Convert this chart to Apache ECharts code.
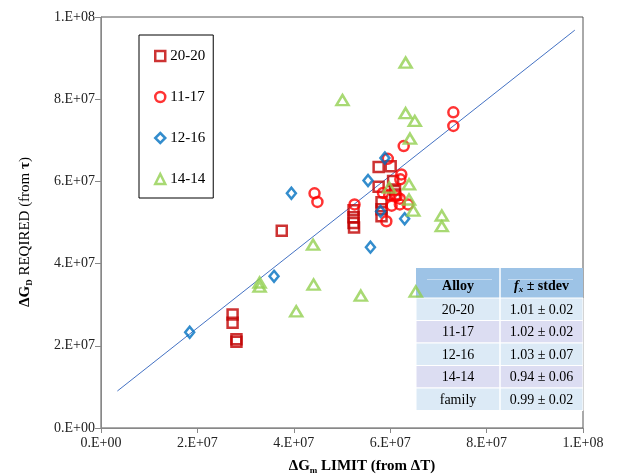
<!DOCTYPE html>
<html>
<head>
<meta charset="utf-8">
<script src="https://cdn.jsdelivr.net/npm/echarts@6/dist/echarts.min.js"></script>
<style>
html, body { margin: 0; padding: 0; background: #fff; }
#main { width: 634px; height: 476px; }
</style>
</head>
<body>
<div id="main"></div>
<script>
// all values in units of 1e6
var tickLabels = ['0.E+00', '2.E+07', '4.E+07', '6.E+07', '8.E+07', '1.E+08'];

var s2020 = [[27.3, 27.6], [27.3, 25.6], [28.1, 21.6], [28.1, 21.0], [37.5, 48.0],
    [52.4, 53.0], [52.4, 51.3], [52.4, 49.9], [52.5, 48.8], [57.6, 63.5], [60.1, 63.7],
    [57.6, 58.7], [60.6, 60.1], [61.0, 58.0], [61.0, 56.8], [58.2, 54.9], [58.2, 53.2], [58.2, 51.5]];
var s1117 = [[44.3, 57.1], [44.9, 55.0], [52.6, 54.4], [59.5, 65.5], [62.8, 68.6], [73.1, 76.8],
    [73.1, 73.5], [62.3, 61.7], [62.1, 60.5], [58.5, 57.2], [59.8, 56.6], [61.3, 56.4],
    [60.3, 54.1], [62.0, 54.4], [62.0, 55.8], [59.2, 50.3], [63.7, 54.4]];
var s1216 = [[18.4, 23.3], [35.9, 36.9], [39.5, 57.1], [55.4, 60.2], [58.9, 65.7],
    [58.0, 52.7], [63.0, 50.9], [55.9, 44.0]];
var s1414 = [[32.9, 35.4], [32.9, 34.4], [40.5, 28.4], [44.0, 44.6], [44.1, 34.9], [50.1, 79.8],
    [63.2, 88.9], [63.2, 76.6], [65.1, 74.7], [64.1, 70.4], [59.8, 58.5], [63.9, 59.3],
    [63.9, 55.6], [64.8, 52.9], [70.7, 51.7], [70.7, 49.1], [65.3, 33.2], [53.9, 32.2]];
var fitLine = [[3.4, 9.0], [98.3, 96.8]];

var tableAlloys = ['20-20', '11-17', '12-16', '14-14', 'family'];
var tableFx = ['1.01 ± 0.02', '1.02 ± 0.02', '1.03 ± 0.07', '0.94 ± 0.06', '0.99 ± 0.02'];

var serif = 'Liberation Serif';

function scatter(name, data, symbol, size, color) {
    return {
        name: name,
        type: 'scatter',
        data: data,
        symbol: symbol,
        symbolSize: size,
        itemStyle: { color: 'rgba(0,0,0,0)', borderColor: color, borderWidth: 2.5 }
    };
}

// table overlay
var tx0 = 416, tx1 = 583, tsplit = 500, ty0 = 268, headH = 30, rowH = 22.5;
var tableEls = [];
tableEls.push({ type: 'rect', shape: { x: tx0, y: ty0, width: tx1 - tx0, height: headH }, style: { fill: '#9DC3E6' } });
tableEls.push({ type: 'line', shape: { x1: 427, y1: 279.5, x2: 492, y2: 279.5 }, style: { stroke: '#C5DBF0', lineWidth: 1 } });
tableEls.push({ type: 'line', shape: { x1: 508, y1: 279.5, x2: 573, y2: 279.5 }, style: { stroke: '#C5DBF0', lineWidth: 1 } });
tableEls.push({
    type: 'text', x: (tx0 + tsplit) / 2, y: ty0 + headH / 2 + 3,
    style: { text: 'Alloy', font: 'bold 14px "Liberation Serif"', fill: '#000', align: 'center', verticalAlign: 'middle' }
});
tableEls.push({
    type: 'text', x: (tsplit + tx1) / 2, y: ty0 + headH / 2 + 3,
    style: {
        text: '{i|f}{s|x}{b| ± stdev}', align: 'center', verticalAlign: 'middle',
        rich: {
            i: { fontFamily: serif, fontSize: 14, fontWeight: 'bold', fontStyle: 'italic', lineHeight: 16, verticalAlign: 'middle' },
            s: { fontFamily: serif, fontSize: 9, fontWeight: 'bold', fontStyle: 'italic', lineHeight: 9, verticalAlign: 'bottom' },
            b: { fontFamily: serif, fontSize: 14, fontWeight: 'bold', lineHeight: 16, verticalAlign: 'middle' }
        }
    }
});
tableAlloys.forEach(function (a, i) {
    var y = ty0 + headH + i * rowH;
    tableEls.push({ type: 'rect', shape: { x: tx0, y: y, width: tx1 - tx0, height: rowH }, style: { fill: i % 2 ? '#DCDDF2' : '#DCEAF6', stroke: '#fff', lineWidth: 1 } });
    tableEls.push({
        type: 'text', x: (tx0 + tsplit) / 2, y: y + rowH / 2 + 1,
        style: { text: a, font: '14px "Liberation Serif"', fill: '#000', align: 'center', verticalAlign: 'middle' }
    });
    tableEls.push({
        type: 'text', x: (tsplit + tx1) / 2, y: y + rowH / 2 + 1,
        style: { text: tableFx[i], font: '14px "Liberation Serif"', fill: '#000', align: 'center', verticalAlign: 'middle' }
    });
});
tableEls.push({ type: 'line', shape: { x1: tsplit, y1: ty0, x2: tsplit, y2: ty0 + headH + tableAlloys.length * rowH }, style: { stroke: '#fff', lineWidth: 1.5 } });

var myChart = echarts.init(document.getElementById('main'));
var options = {
    animation: false,
    backgroundColor: '#fff',
    grid: { left: 101, right: 51, top: 17, bottom: 48, show: true, borderColor: '#555', borderWidth: 1 },
    legend: {
        data: ['20-20', '11-17', '12-16', '14-14'],
        orient: 'vertical',
        left: 139,
        top: 35,
        padding: [13, 8, 11, 15],
        itemGap: 25,
        itemWidth: 10,
        itemHeight: 10,
        itemStyle: { borderWidth: 2.5 },
        borderColor: '#000',
        borderWidth: 1,
        backgroundColor: '#fff',
        textStyle: { fontFamily: serif, fontSize: 15, color: '#000', lineHeight: 16 }
    },
    xAxis: {
        type: 'value', min: 0, max: 100, interval: 20,
        splitLine: { show: false },
        axisLine: { lineStyle: { color: '#888' } },
        axisTick: { length: 5, lineStyle: { color: '#888' } },
        axisLabel: {
            margin: 8, fontFamily: serif, fontSize: 14, color: '#222',
            formatter: function (v) { return tickLabels[Math.round(v / 20)]; }
        }
    },
    yAxis: {
        type: 'value', min: 0, max: 100, interval: 20,
        splitLine: { show: false },
        axisLine: { show: true, lineStyle: { color: '#888' } },
        axisTick: { show: true, length: 6, lineStyle: { color: '#888' } },
        axisLabel: {
            margin: 6, fontFamily: serif, fontSize: 14, color: '#222',
            formatter: function (v) { return tickLabels[Math.round(v / 20)]; }
        }
    },
    series: [
        {
            name: 'fit', type: 'line', data: fitLine, showSymbol: false, silent: true,
            lineStyle: { color: '#4472C4', width: 1 }, z: 1
        },
        scatter('20-20', s2020, 'rect', 10, '#C00000'),
        scatter('11-17', s1117, 'circle', 10, '#FF0000'),
        scatter('12-16', s1216, 'diamond', [9, 11], '#0070C0'),
        scatter('14-14', s1414, 'triangle', [12, 10], '#92D050')
    ],
    graphic: [
        {
            type: 'text', x: 25, y: 232, rotation: Math.PI / 2,
            style: {
                text: '{b|ΔG}{s|D}{n| REQIRED (from }{b|τ}{n|)}', align: 'center', verticalAlign: 'middle',
                rich: {
                    b: { fontFamily: serif, fontSize: 15, fontWeight: 'bold', lineHeight: 18, verticalAlign: 'middle' },
                    s: { fontFamily: serif, fontSize: 9, fontWeight: 'bold', lineHeight: 9, verticalAlign: 'bottom' },
                    n: { fontFamily: serif, fontSize: 15, lineHeight: 18, verticalAlign: 'middle' }
                }
            }
        },
        {
            type: 'text', x: 362, y: 466,
            style: {
                text: '{b|ΔG}{s|m}{b| LIMIT (from ΔT)}', align: 'center', verticalAlign: 'middle',
                rich: {
                    b: { fontFamily: serif, fontSize: 15, fontWeight: 'bold', lineHeight: 18, verticalAlign: 'middle' },
                    s: { fontFamily: serif, fontSize: 9, fontWeight: 'bold', lineHeight: 9, verticalAlign: 'bottom' }
                }
            }
        },
        { type: 'group', z: 100, children: tableEls }
    ]
};
myChart.setOption(options);
</script>
</body>
</html>
